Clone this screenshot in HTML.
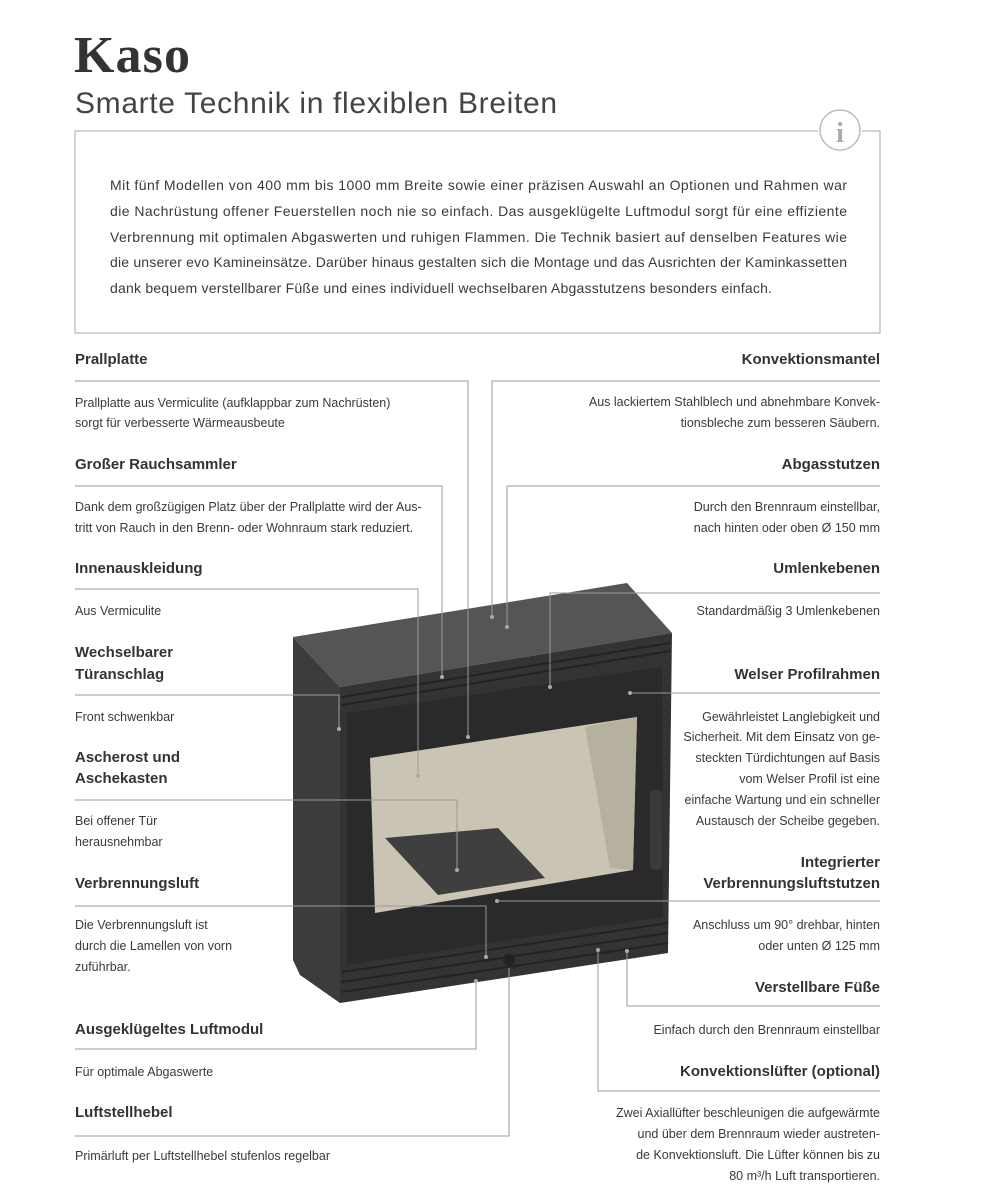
<!DOCTYPE html>
<html><head><meta charset="utf-8"><style>
html,body{margin:0;padding:0;background:#fff;}
svg{display:block}
.h{font-family:"Liberation Sans",sans-serif;font-weight:bold;font-size:15px;fill:#333}
.t{font-family:"Liberation Sans",sans-serif;font-size:12.5px;fill:#3a3a3a}
.p{font-family:"Liberation Sans",sans-serif;font-size:14px;fill:#3a3a3a}
.r{text-anchor:end}
.l{stroke:#9a9a9a;stroke-width:1;fill:none}
</style></head><body>
<svg width="1000" height="1194" viewBox="0 0 1000 1194" xmlns="http://www.w3.org/2000/svg">
<text x="74" y="72" font-family="Liberation Serif,serif" font-weight="bold" font-size="52" fill="#333" textLength="116">Kaso</text>
<text x="75" y="113" font-family="Liberation Sans,sans-serif" font-size="30" fill="#444" textLength="482">Smarte Technik in flexiblen Breiten</text>
<!-- info box -->
<path d="M818 131 H75 V333 H880 V131 H862" stroke="#aaa" fill="none"/>
<circle cx="840" cy="130" r="20" fill="#fff" stroke="#bbb" stroke-width="1.5"/>
<text x="840" y="142" text-anchor="middle" font-family="Liberation Serif,serif" font-weight="bold" font-size="28" fill="#aaa">i</text>
<text class="p" x="110" y="190" textLength="737">Mit fünf Modellen von 400 mm bis 1000 mm Breite sowie einer präzisen Auswahl an Optionen und Rahmen war</text>
<text class="p" x="110" y="216" textLength="737">die Nachrüstung offener Feuerstellen noch nie so einfach. Das ausgeklügelte Luftmodul sorgt für eine effiziente</text>
<text class="p" x="110" y="242" textLength="737">Verbrennung mit optimalen Abgaswerten und ruhigen Flammen. Die Technik basiert auf denselben Features wie</text>
<text class="p" x="110" y="267" textLength="737">die unserer evo Kamineinsätze. Darüber hinaus gestalten sich die Montage und das Ausrichten der Kaminkassetten</text>
<text class="p" x="110" y="293" textLength="662">dank bequem verstellbarer Füße und eines individuell wechselbaren Abgasstutzens besonders einfach.</text>

<!-- stove -->
<polygon points="293,637 340,687 340,1003 300,975 293,960" fill="#3c3c3c"/>
<polygon points="293,637 627,583 672,633 340,687" fill="#555"/>
<polygon points="340,687 672,633 668,953 340,1003" fill="#333"/>
<g stroke="#222" stroke-width="2">
<line x1="342" y1="697" x2="670" y2="643"/><line x1="342" y1="705" x2="670" y2="651"/>
<line x1="342" y1="972" x2="668" y2="923"/><line x1="342" y1="982" x2="668" y2="933"/><line x1="342" y1="992" x2="668" y2="943"/>
</g>
<polygon points="347,713 662,667 663,917 347,965" fill="#2a2a2a"/>
<polygon points="370,758 637,717 633,870 375,913" fill="#c9c4b4"/>
<polygon points="585,727 637,717 633,870 610,868" fill="#b6b19f"/>
<polygon points="385,838 498,828 545,878 438,895" fill="#3f3f3f"/>
<rect x="650" y="790" width="12" height="80" rx="4" fill="#3a3a3a"/>
<circle cx="509" cy="960" r="6" fill="#222"/>

<!-- leaders -->
<g class="l">
<path d="M75 381 H468 V737"/><path d="M75 486 H442 V677"/><path d="M75 589 H418 V776"/>
<path d="M75 695 H339 V729"/><path d="M75 800 H457 V870"/><path d="M75 906 H486 V957"/>
<path d="M75 1049 H476 V981"/><path d="M75 1136 H509 V968"/>
<path d="M880 381 H492 V617"/><path d="M880 486 H507 V627"/><path d="M880 593 H550 V687"/>
<path d="M880 693 H630"/><path d="M880 901 H497"/><path d="M880 1006 H627 V951"/><path d="M880 1091 H598 V950"/>
</g>
<g fill="#aaa">
<circle cx="468" cy="737" r="2"/><circle cx="442" cy="677" r="2"/><circle cx="418" cy="776" r="2"/><circle cx="339" cy="729" r="2"/><circle cx="457" cy="870" r="2"/><circle cx="486" cy="957" r="2"/><circle cx="476" cy="981" r="2"/><circle cx="492" cy="617" r="2"/><circle cx="507" cy="627" r="2"/><circle cx="550" cy="687" r="2"/><circle cx="630" cy="693" r="2"/><circle cx="497" cy="901" r="2"/><circle cx="627" cy="951" r="2"/><circle cx="598" cy="950" r="2"/>
</g>

<!-- left labels -->
<text class="h" x="75" y="364">Prallplatte</text>
<text class="t" x="75" y="407">Prallplatte aus Vermiculite (aufklappbar zum Nachrüsten)</text>
<text class="t" x="75" y="427">sorgt für verbesserte Wärmeausbeute</text>
<text class="h" x="75" y="469">Großer Rauchsammler</text>
<text class="t" x="75" y="511">Dank dem großzügigen Platz über der Prallplatte wird der Aus-</text>
<text class="t" x="75" y="532">tritt von Rauch in den Brenn- oder Wohnraum stark reduziert.</text>
<text class="h" x="75" y="573">Innenauskleidung</text>
<text class="t" x="75" y="615">Aus Vermiculite</text>
<text class="h" x="75" y="657">Wechselbarer</text>
<text class="h" x="75" y="679">Türanschlag</text>
<text class="t" x="75" y="721">Front schwenkbar</text>
<text class="h" x="75" y="762">Ascherost und</text>
<text class="h" x="75" y="783">Aschekasten</text>
<text class="t" x="75" y="825">Bei offener Tür</text>
<text class="t" x="75" y="846">herausnehmbar</text>
<text class="h" x="75" y="888">Verbrennungsluft</text>
<text class="t" x="75" y="929">Die Verbrennungsluft ist</text>
<text class="t" x="75" y="950">durch die Lamellen von vorn</text>
<text class="t" x="75" y="971">zuführbar.</text>
<text class="h" x="75" y="1034">Ausgeklügeltes Luftmodul</text>
<text class="t" x="75" y="1076">Für optimale Abgaswerte</text>
<text class="h" x="75" y="1117">Luftstellhebel</text>
<text class="t" x="75" y="1160">Primärluft per Luftstellhebel stufenlos regelbar</text>

<!-- right labels -->
<g class="r">
<text class="h r" x="880" y="364">Konvektionsmantel</text>
<text class="t r" x="880" y="406">Aus lackiertem Stahlblech und abnehmbare Konvek-</text>
<text class="t r" x="880" y="427">tionsbleche zum besseren Säubern.</text>
<text class="h r" x="880" y="469">Abgasstutzen</text>
<text class="t r" x="880" y="511">Durch den Brennraum einstellbar,</text>
<text class="t r" x="880" y="532">nach hinten oder oben Ø 150 mm</text>
<text class="h r" x="880" y="573">Umlenkebenen</text>
<text class="t r" x="880" y="615">Standardmäßig 3 Umlenkebenen</text>
<text class="h r" x="880" y="679">Welser Profilrahmen</text>
<text class="t r" x="880" y="721">Gewährleistet Langlebigkeit und</text>
<text class="t r" x="880" y="741">Sicherheit. Mit dem Einsatz von ge-</text>
<text class="t r" x="880" y="762">steckten Türdichtungen auf Basis</text>
<text class="t r" x="880" y="783">vom Welser Profil ist eine</text>
<text class="t r" x="880" y="804">einfache Wartung und ein schneller</text>
<text class="t r" x="880" y="825">Austausch der Scheibe gegeben.</text>
<text class="h r" x="880" y="867">Integrierter</text>
<text class="h r" x="880" y="888">Verbrennungsluftstutzen</text>
<text class="t r" x="880" y="929">Anschluss um 90° drehbar, hinten</text>
<text class="t r" x="880" y="950">oder unten Ø 125 mm</text>
<text class="h r" x="880" y="992">Verstellbare Füße</text>
<text class="t r" x="880" y="1034">Einfach durch den Brennraum einstellbar</text>
<text class="h r" x="880" y="1076">Konvektionslüfter (optional)</text>
<text class="t r" x="880" y="1117">Zwei Axiallüfter beschleunigen die aufgewärmte</text>
<text class="t r" x="880" y="1138">und über dem Brennraum wieder austreten-</text>
<text class="t r" x="880" y="1159">de Konvektionsluft. Die Lüfter können bis zu</text>
<text class="t r" x="880" y="1180">80 m³/h Luft transportieren.</text>
</g>
</svg>
</body></html>
